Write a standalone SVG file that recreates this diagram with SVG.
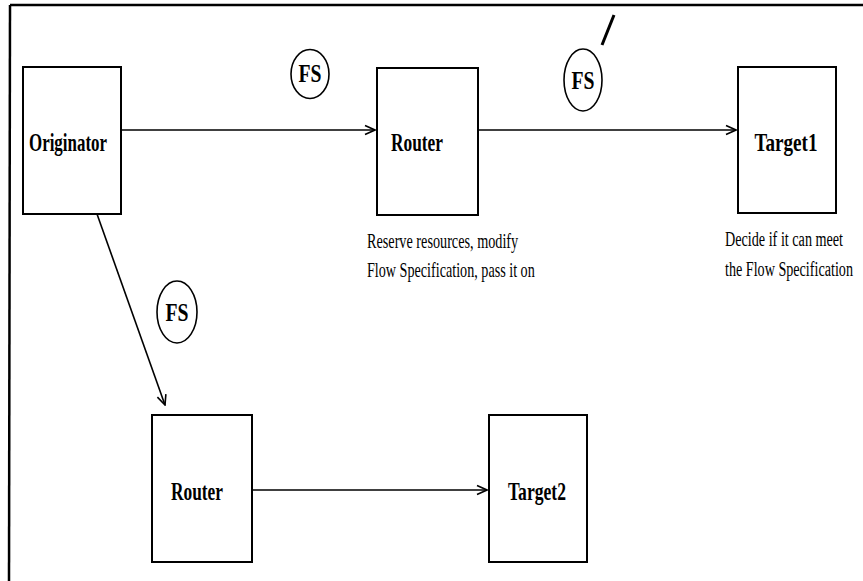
<svg xmlns="http://www.w3.org/2000/svg" width="863" height="581" viewBox="0 0 863 581">
  <defs>
    <style>
      .box { fill: #ffffff; stroke: #000000; stroke-width: 2; }
      .conn { fill: none; stroke: #000000; stroke-width: 1.6; }
      .fs { fill: #ffffff; stroke: #000000; stroke-width: 1.6; }
      .label { font-family: "Liberation Serif", "Times New Roman", serif; font-weight: bold; font-size: 26px; fill: #000000; text-anchor: middle; }
      .fstext { font-family: "Liberation Serif", "Times New Roman", serif; font-weight: bold; font-size: 25px; fill: #000000; text-anchor: middle; }
      .cap { font-family: "Liberation Serif", "Times New Roman", serif; font-size: 20px; fill: #000000; }
    </style>
    <marker id="arrow" viewBox="0 0 12 12" refX="11" refY="6" markerWidth="12" markerHeight="12" markerUnits="userSpaceOnUse" orient="auto">
      <polyline points="1,1.5 11,6 1,10.5" fill="none" stroke="#000000" stroke-width="1.6"/>
    </marker>
  </defs>
  <rect width="863" height="581" fill="#ffffff"/>
  <g id="frame">
    <line x1="10" y1="5" x2="863" y2="5" stroke="#000000" stroke-width="2.5"/>
    <line x1="10" y1="5" x2="9" y2="581" stroke="#000000" stroke-width="2.5"/>
  </g>
  <g id="connectors">
    <line class="conn" x1="121" y1="130" x2="375" y2="130" marker-end="url(#arrow)"/>
    <line class="conn" x1="478" y1="130" x2="736" y2="130" marker-end="url(#arrow)"/>
    <line class="conn" x1="97" y1="214" x2="165" y2="405" marker-end="url(#arrow)"/>
    <line class="conn" x1="252" y1="490" x2="487" y2="490" marker-end="url(#arrow)"/>
  </g>
  <g id="originator">
    <rect class="box" x="23" y="67" width="98" height="147"/>
    <text class="label" x="68" y="151" textLength="78" lengthAdjust="spacingAndGlyphs">Originator</text>
  </g>
  <g id="router1">
    <rect class="box" x="377" y="68" width="101" height="147"/>
    <text class="label" x="417" y="151" textLength="52" lengthAdjust="spacingAndGlyphs">Router</text>
    <text class="cap" transform="translate(367,248) scale(0.72,1)" textLength="210" lengthAdjust="spacingAndGlyphs">Reserve resources, modify</text>
    <text class="cap" transform="translate(367,277) scale(0.72,1)" textLength="233" lengthAdjust="spacingAndGlyphs">Flow Specification, pass it on</text>
  </g>
  <g id="target1">
    <rect class="box" x="738" y="67" width="98" height="146"/>
    <text class="label" x="786" y="151" textLength="63" lengthAdjust="spacingAndGlyphs">Target1</text>
    <text class="cap" transform="translate(725,246) scale(0.707,1)" textLength="167" lengthAdjust="spacingAndGlyphs">Decide if it can meet</text>
    <text class="cap" transform="translate(725,276) scale(0.707,1)" textLength="181" lengthAdjust="spacingAndGlyphs">the Flow Specification</text>
  </g>
  <g id="router2">
    <rect class="box" x="152" y="415" width="100" height="147"/>
    <text class="label" x="197" y="500" textLength="52" lengthAdjust="spacingAndGlyphs">Router</text>
  </g>
  <g id="target2">
    <rect class="box" x="489" y="415" width="98" height="147"/>
    <text class="label" x="537" y="500" textLength="58" lengthAdjust="spacingAndGlyphs">Target2</text>
  </g>
  <g id="fs1">
    <ellipse class="fs" cx="310" cy="74" rx="19" ry="24.5"/>
    <text class="fstext" x="310" y="82" textLength="23" lengthAdjust="spacingAndGlyphs">FS</text>
  </g>
  <g id="fs2">
    <ellipse class="fs" cx="583" cy="80" rx="19" ry="31"/>
    <text class="fstext" x="583" y="89" textLength="23" lengthAdjust="spacingAndGlyphs">FS</text>
    <line x1="614" y1="15" x2="602" y2="45" stroke="#000000" stroke-width="3"/>
  </g>
  <g id="fs3">
    <ellipse class="fs" cx="177" cy="312" rx="20" ry="31"/>
    <text class="fstext" x="177" y="321" textLength="23" lengthAdjust="spacingAndGlyphs">FS</text>
  </g>
</svg>
